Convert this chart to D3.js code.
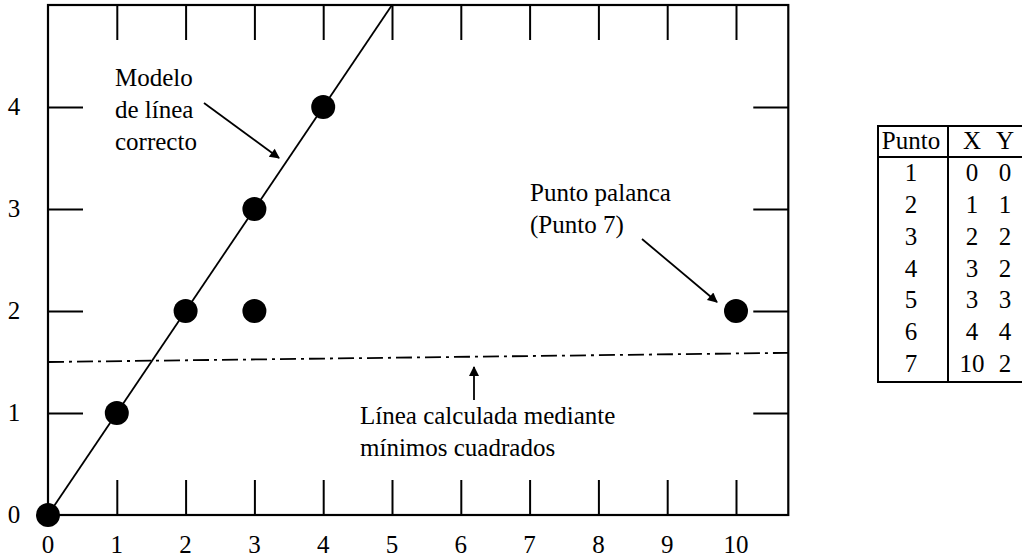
<!DOCTYPE html>
<html><head><meta charset="utf-8">
<script src="https://cdn.jsdelivr.net/npm/d3@7"></script>
</head>
<body style="margin:0"><svg id="c" width="1022" height="557"></svg>
<script>
// ---- data ----
const pointIds = [1, 2, 3, 4, 5, 6, 7];
const xValues = [0, 1, 2, 3, 3, 4, 10];
const yValues = [0, 1, 2, 2, 3, 4, 2];
const xTicks = [0, 1, 2, 3, 4, 5, 6, 7, 8, 9, 10];
const yTicks = [0, 1, 2, 3, 4];
const correctLine = [[0, 0], [5, 5]];
const lsqLine = [[0, 1.5], [10.76, 1.59]];
const tableHeader = ["Punto", "X", "Y"];
const annModel = ["Modelo", "de línea", "correcto"];
const annLever = ["Punto palanca", "(Punto 7)"];
const annLsq = ["Línea calculada mediante", "mínimos cuadrados"];

// ---- layout ----
const svg = d3.select("#c");
const x = d3.scaleLinear().domain([0, 10]).range([48, 736]);
const y = d3.scaleLinear().domain([0, 4]).range([515, 107]);
const xMax = 10.76, yMax = 5.0;
const fs = 25;

function txt(sel, fam) {
  return sel.attr("font-size", fs).attr("fill", "#000").style("font-family", fam || "Times");
}

svg.append("defs").append("marker")
  .attr("id", "ah").attr("viewBox", "0 0 10 10").attr("refX", 9).attr("refY", 5)
  .attr("markerWidth", 12).attr("markerHeight", 10).attr("markerUnits", "userSpaceOnUse")
  .attr("orient", "auto")
  .append("path").attr("d", "M0,0L10,5L0,10z").attr("fill", "#000");

// frame
svg.append("rect").attr("x", x(0)).attr("y", y(yMax))
  .attr("width", x(xMax) - x(0)).attr("height", y(0) - y(yMax))
  .attr("fill", "none").attr("stroke", "#000").attr("stroke-width", 2.2);

// inner ticks via d3 axes
const tk = 35;
const inner = xTicks.filter(d => d > 0);
const innerY = yTicks.filter(d => d > 0);
function styleAxis(g) {
  g.select(".domain").remove();
  g.selectAll("text").remove();
  g.selectAll("line").attr("stroke", "#000").attr("stroke-width", 2);
}
svg.append("g").attr("transform", `translate(0,${y(0)})`)
  .call(d3.axisTop(x).tickValues(inner).tickSize(tk)).call(styleAxis);
svg.append("g").attr("transform", `translate(0,${y(yMax)})`)
  .call(d3.axisBottom(x).tickValues(inner).tickSize(tk)).call(styleAxis);
svg.append("g").attr("transform", `translate(${x(0)},0)`)
  .call(d3.axisRight(y).tickValues(innerY).tickSize(tk)).call(styleAxis);
svg.append("g").attr("transform", `translate(${x(xMax)},0)`)
  .call(d3.axisLeft(y).tickValues(innerY).tickSize(tk)).call(styleAxis);

// tick labels (plain text from scale ticks)
svg.append("g").selectAll("text").data(xTicks).join("text")
  .attr("x", d => x(d)).attr("y", y(0) + 38).attr("text-anchor", "middle")
  .call(s => txt(s, '"Liberation Serif"')).text(d => d);
svg.append("g").selectAll("text").data(yTicks).join("text")
  .attr("x", 14).attr("y", d => y(d) + 8).attr("text-anchor", "middle")
  .call(s => txt(s, '"Liberation Serif"')).text(d => d);

// lines
const line = d3.line().x(d => x(d[0])).y(d => y(d[1]));
svg.append("path").attr("d", line(correctLine)).attr("fill", "none")
  .attr("stroke", "#000").attr("stroke-width", 1.8);
svg.append("path").attr("d", line(lsqLine)).attr("fill", "none")
  .attr("stroke", "#000").attr("stroke-width", 1.8).attr("stroke-dasharray", "16 5 3 5");

// points
svg.append("g").selectAll("circle").data(pointIds).join("circle")
  .attr("cx", (d, i) => x(xValues[i])).attr("cy", (d, i) => y(yValues[i]))
  .attr("r", 12).attr("fill", "#000");

// annotations
function textBlock(lines, tx, ty, lh) {
  svg.append("g").selectAll("text").data(lines).join("text")
    .attr("x", tx).attr("y", (d, i) => ty + i * lh)
    .call(s => txt(s, '"Times New Roman"')).text(d => d);
}
textBlock(annModel, 115, 86, 32);
textBlock(annLever, 530, 201, 32);
textBlock(annLsq, 360, 424, 32);

function arrow(x1, y1, x2, y2) {
  svg.append("line").attr("x1", x1).attr("y1", y1).attr("x2", x2).attr("y2", y2)
    .attr("stroke", "#000").attr("stroke-width", 1.8).attr("marker-end", "url(#ah)");
}
arrow(204, 103, 279, 158);
arrow(642, 239, 717, 302);
arrow(474, 400, 474, 367);

// table
const tg = svg.append("g");
const tL = 878, tT = 126, tB = 382, tDiv = 948, tHead = 157, tR = 1030;
tg.append("rect").attr("x", tL).attr("y", tT).attr("width", tR - tL).attr("height", tB - tT)
  .attr("fill", "none").attr("stroke", "#000").attr("stroke-width", 2);
tg.append("line").attr("x1", tL).attr("x2", tR).attr("y1", tHead).attr("y2", tHead)
  .attr("stroke", "#000").attr("stroke-width", 2);
tg.append("line").attr("x1", tDiv).attr("x2", tDiv).attr("y1", tT).attr("y2", tB)
  .attr("stroke", "#000").attr("stroke-width", 2);
const colX = [911, 972, 1005];
tableHeader.forEach((h, j) => {
  txt(tg.append("text").attr("x", colX[j]).attr("y", 149).attr("text-anchor", "middle"), "Tinos").text(h);
});
const rowY = d3.scaleLinear().domain([1, 7]).range([181, 372]);
pointIds.forEach((p, i) => {
  [p, xValues[i], yValues[i]].forEach((v, j) => {
    txt(tg.append("text").attr("x", colX[j]).attr("y", rowY(p)).attr("text-anchor", "middle"), "Tinos").text(v);
  });
});
</script></body></html>
